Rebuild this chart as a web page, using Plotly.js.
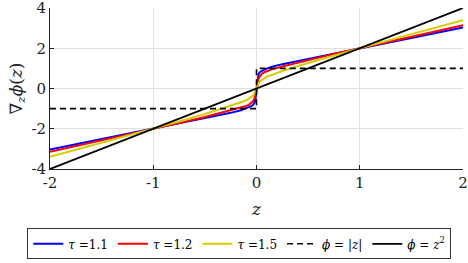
<!DOCTYPE html>
<html><head><meta charset="utf-8">
<script src="https://cdn.plot.ly/plotly-3.0.1.min.js"></script>
<style>html,body{margin:0;padding:0;background:#fff}</style>
</head><body><div id="chart" style="width:468px;height:263px"></div>
<script>
const zVals = [-2,-1.5,-1,-0.75,-0.5,-0.25,-0.15,-0.1,-0.075,-0.05,-0.035,-0.02,-0.01,-0.005,0,0.005,0.01,0.02,0.035,0.05,0.075,0.1,0.15,0.25,0.5,0.75,1,1.5,2];
const tau11 = [-3.03,-2.52,-2.0,-1.74,-1.47,-1.21,-1.08,-0.99,-0.94,-0.88,-0.82,-0.72,-0.55,-0.35,0,0.35,0.55,0.72,0.82,0.88,0.94,0.99,1.08,1.21,1.47,1.74,2.0,2.52,3.03];
const tau12 = [-3.14,-2.58,-2.0,-1.72,-1.42,-1.09,-0.95,-0.87,-0.81,-0.72,-0.65,-0.5,-0.33,-0.2,0,0.2,0.33,0.5,0.65,0.72,0.81,0.87,0.95,1.09,1.42,1.72,2.0,2.58,3.14];
const tau15 = [-3.39,-2.7,-2.0,-1.64,-1.27,-0.87,-0.68,-0.59,-0.52,-0.42,-0.36,-0.26,-0.16,-0.1,0,0.1,0.16,0.26,0.36,0.42,0.52,0.59,0.68,0.87,1.27,1.64,2.0,2.7,3.39];
const absX = [-2,0,0,2];
const absY = [-1,-1,1,1];
const quadX = [-2,2];
const quadY = [-4,4];
const xTicks = [-2,-1,0,1,2];
const xTickText = ["-2","-1","0","1","2"];
const yTicks = [-4,-2,0,2,4];
const yTickText = ["-4","-2","0","2","4"];
const names = ["<i>τ</i> =1.1","<i>τ</i> =1.2","<i>τ</i> =1.5","<i>ϕ</i> = |<i>z</i>|","<i>ϕ</i> = <i>z</i><sup>2</sup>"];

const serif = "DejaVu Serif";
const traces = [
  {x:zVals,y:tau11,mode:"lines",name:names[0],line:{color:"#0000ff",width:2}},
  {x:zVals,y:tau12,mode:"lines",name:names[1],line:{color:"#ff0000",width:2}},
  {x:zVals,y:tau15,mode:"lines",name:names[2],line:{color:"#d6cc00",width:2}},
  {x:absX,y:absY,mode:"lines",name:names[3],line:{color:"#000",width:1.6,dash:"6px,4px"}},
  {x:quadX,y:quadY,mode:"lines",name:names[4],line:{color:"#000",width:1.8}}
];
const layout = {
  width:468,height:263,
  margin:{l:50,r:5,t:8,b:93},
  paper_bgcolor:"#fff",plot_bgcolor:"#fff",
  font:{family:serif,size:15,color:"#222"},
  showlegend:true,
  legend:{orientation:"h",x:-0.055,xanchor:"left",y:-0.36,yanchor:"top",
    bordercolor:"#333",borderwidth:1,font:{family:serif,size:12,color:"#000"},
    itemwidth:30,tracegroupgap:0,bgcolor:"#fff"},
  xaxis:{range:[-2,2],tickvals:xTicks,ticktext:xTickText,showgrid:true,gridcolor:"#e0e0e0",
    zeroline:false,showline:true,linecolor:"#222",linewidth:1,ticks:"inside",ticklen:4,tickcolor:"#222",
    ticklabeloverflow:"allow",automargin:false,
    title:{text:"<i>z</i>",font:{family:serif,size:17},standoff:12},fixedrange:true},
  yaxis:{range:[-4,4],tickvals:yTicks,ticktext:yTickText,showgrid:true,gridcolor:"#e0e0e0",
    zeroline:false,showline:true,linecolor:"#222",linewidth:1,ticks:"inside",ticklen:4,tickcolor:"#222",
    ticklabeloverflow:"allow",automargin:false,
    title:{text:"∇<sub><i>z</i></sub><i>ϕ</i>(<i>z</i>)",font:{family:serif,size:17},standoff:4},fixedrange:true}
};
Plotly.newPlot("chart",traces,layout,{displayModeBar:false,staticPlot:true});
</script></body></html>
